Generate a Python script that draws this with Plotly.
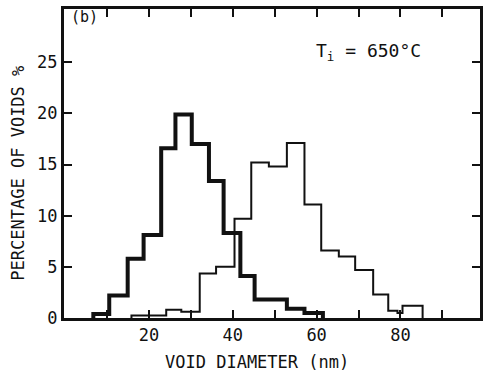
import plotly.graph_objects as go

# Histogram bin edges (nm) and percentages
thick_edges = [6.7, 10.5, 14.9, 18.7, 22.9, 26.3, 30.2, 34.3, 37.8, 41.8, 45.2, 52.9, 57.1, 61.5]
thick_vals = [0.4, 2.2, 5.8, 8.1, 16.6, 19.9, 17.0, 13.4, 8.3, 4.1, 1.8, 0.9, 0.5]

thin_edges = [15.8, 24.1, 27.7, 32.1, 36.0, 40.4, 44.4, 48.6, 52.9, 57.1, 61.1, 65.3, 69.2,
              73.5, 77.1, 79.3, 80.5, 85.3]
thin_vals = [0.25, 0.8, 0.6, 4.35, 5.0, 9.7, 15.2, 14.8, 17.1, 11.1, 6.6, 6.0, 4.7,
             2.3, 0.7, 0.5, 1.2]

x_tick_vals = [10, 20, 30, 40, 50, 60, 70, 80, 90]
x_tick_text = ["", "20", "", "40", "", "60", "", "80", ""]
y_tick_vals = [0, 5, 10, 15, 20, 25]

FONT = "DejaVu Sans Mono"


def step_xy(edges, vals):
    xs = [edges[0]]
    ys = [0]
    for i, v in enumerate(vals):
        xs += [edges[i], edges[i + 1]]
        ys += [v, v]
    xs.append(edges[-1])
    ys.append(0)
    return xs, ys


fig = go.Figure()
tx, ty = step_xy(thin_edges, thin_vals)
fig.add_trace(go.Scatter(x=tx, y=ty, mode="lines", line=dict(color="#111", width=2),
                         showlegend=False, hoverinfo="skip"))
kx, ky = step_xy(thick_edges, thick_vals)
fig.add_trace(go.Scatter(x=kx, y=ky, mode="lines", line=dict(color="#111", width=4),
                         showlegend=False, hoverinfo="skip"))

axis_common = dict(showline=True, linecolor="#111", linewidth=3, mirror="ticks",
                   ticks="inside", ticklen=8, tickwidth=2, tickcolor="#111",
                   showgrid=False, zeroline=False,
                   tickfont=dict(family=FONT, size=17, color="#111"))

fig.update_xaxes(range=[-0.3, 99.0], tickvals=x_tick_vals, ticktext=x_tick_text, **axis_common)
fig.update_yaxes(range=[0, 30.2], tickvals=y_tick_vals, **axis_common)

fig.update_layout(
    width=489, height=376,
    margin=dict(l=64, r=8, t=6, b=58),
    plot_bgcolor="white", paper_bgcolor="white",
    font=dict(family=FONT, size=17, color="#111"),
    annotations=[
        dict(text="PERCENTAGE OF VOIDS %", xref="paper", yref="paper", x=-0.110, y=0.468,
             xanchor="center", yanchor="middle",
             textangle=-90, showarrow=False, font=dict(family=FONT, size=17, color="#111")),
        dict(text="VOID DIAMETER (nm)", xref="paper", yref="paper", x=0.465, y=-0.144,
             xanchor="center", yanchor="middle",
             showarrow=False, font=dict(family=FONT, size=17, color="#111")),
        dict(text="T<sub>i</sub> = 650°C", xref="paper", yref="paper", x=0.600, y=0.862,
             xanchor="left", yanchor="middle", showarrow=False,
             font=dict(family=FONT, size=18, color="#111")),
        dict(text="(b)", xref="paper", yref="paper", x=0.012, y=0.975,
             xanchor="left", yanchor="middle", showarrow=False,
             font=dict(family=FONT, size=15, color="#111")),
    ],
)

fig.write_html("out.html")
